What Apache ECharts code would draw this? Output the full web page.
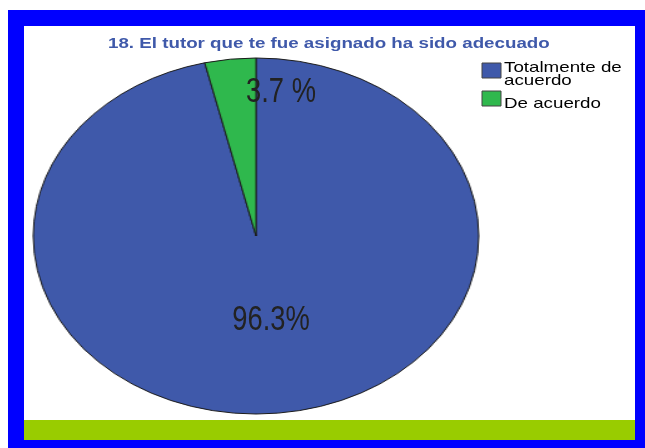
<!DOCTYPE html>
<html>
<head>
<meta charset="utf-8">
<script src="https://cdn.jsdelivr.net/npm/echarts@6/dist/echarts.min.js"></script>
<style>
    html, body { margin: 0; padding: 0; background: #fff; }
    #stage { position: relative; width: 645px; height: 448px; overflow: hidden; }
    #frame { position: absolute; left: 8px; top: 10px; width: 637px; height: 438px; background: #0000ff; }
    #inner { position: absolute; left: 24px; top: 26px; width: 611px; height: 414px; background: #fff; }
    #band { position: absolute; left: 24px; top: 420px; width: 611px; height: 20px; background: #99cc00; }
    #PieChart { position: absolute; left: 77px; top: 57px; width: 358px; height: 358px;
        transform: scaleX(1.2514); transform-origin: 50% 50%; }
    #TopChart { position: absolute; left: 0; top: 0; width: 645px; height: 448px; }
</style>
</head>
<body>
<div id="stage">
    <div id="frame"></div>
    <div id="inner"></div>
    <div id="band"></div>
    <div id="PieChart"></div>
    <div id="TopChart"></div>
</div>
<script>
// datos del gráfico
const categories = ['Totalmente de acuerdo', 'De acuerdo'];
const values = [96.3, 3.7];
const valueLabels = ['96.3%', '3.7 %'];
const colors = ['#3f59aa', '#2fb84d'];

const pieData = categories.map((name, i) => ({ name: name, value: values[i] }));
const FONT = '"Liberation Sans", Arial, sans-serif';
const STRETCH = 1.25; // la imagen original está estirada en horizontal

// pastel (se estira en horizontal con CSS para que quede elíptico)
const pieChart = echarts.init(document.getElementById('PieChart'));
pieChart.setOption({
    animation: false,
    color: colors,
    series: [{
        type: 'pie',
        center: ['50%', '50%'],
        radius: 178,
        startAngle: 90,
        clockwise: true,
        silent: true,
        label: { show: false },
        labelLine: { show: false },
        itemStyle: { borderColor: '#1a1a1a', borderWidth: 1 },
        data: pieData
    }]
});

// leyenda hecha a mano para poder estirar el texto
const legendName = name => name === 'Totalmente de acuerdo' ? 'Totalmente de\nacuerdo' : name;
const legendTop = [63, 91];
const legendTextTop = [61, 97];
const legendItems = [];
categories.forEach((name, i) => {
    legendItems.push({
        type: 'rect',
        shape: { x: 482, y: legendTop[i], width: 19, height: 15 },
        style: { fill: colors[i], stroke: '#444', lineWidth: 1 }
    });
    legendItems.push({
        type: 'text', x: 504, y: legendTextTop[i], scaleX: STRETCH,
        style: {
            text: legendName(name), fill: '#000', align: 'left', verticalAlign: 'top',
            font: '15px ' + FONT, lineHeight: 13
        }
    });
});

// título, leyenda y etiquetas sin estirar
const topChart = echarts.init(document.getElementById('TopChart'));
topChart.setOption({
    animation: false,
    color: colors,
    graphic: [
        {
            type: 'text', x: 108, y: 36, scaleX: STRETCH,
            style: {
                text: '18. El tutor que te fue asignado ha sido adecuado',
                fill: '#3f59aa', align: 'left', verticalAlign: 'top',
                font: 'bold 15px ' + FONT
            }
        },
        ...legendItems,
        {
            type: 'text', x: 271, y: 320, scaleX: 0.78,
            style: {
                text: valueLabels[0], fill: '#222', align: 'center', verticalAlign: 'middle',
                font: '35px ' + FONT
            }
        },
        {
            type: 'text', x: 281, y: 92, scaleX: 0.78,
            style: {
                text: valueLabels[1], fill: '#222', align: 'center', verticalAlign: 'middle',
                font: '35px ' + FONT
            }
        }
    ]
});
</script>
</body>
</html>
